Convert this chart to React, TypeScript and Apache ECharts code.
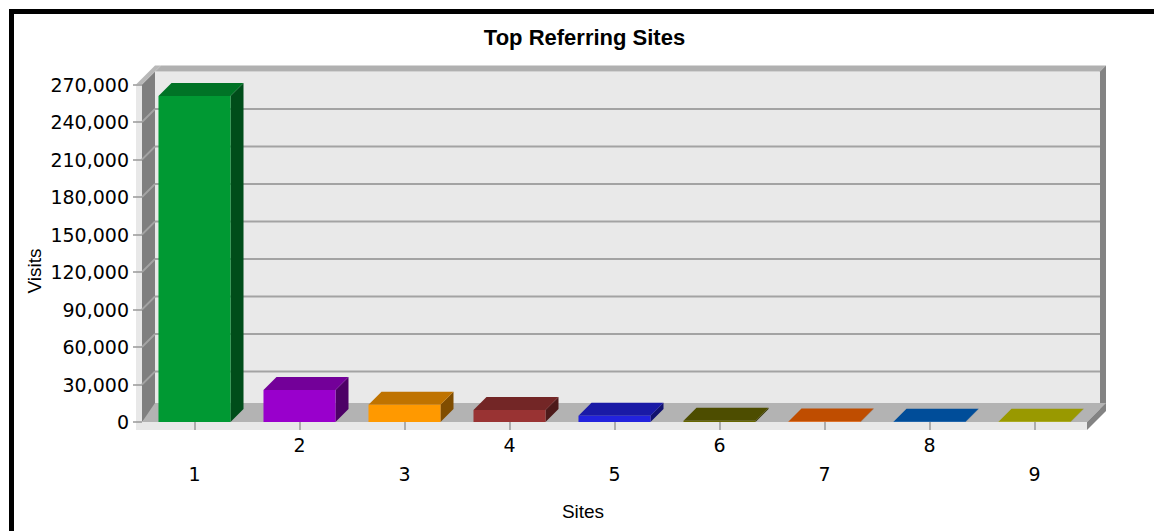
import React, { useEffect, useRef } from 'react';
import * as echarts from 'echarts';

const categories = ['1', '2', '3', '4', '5', '6', '7', '8', '9'];
const visits = [260800, 25600, 13800, 9600, 5000, 1000, 400, 300, 300];
const barColors = ['#009933', '#9900cc', '#ff9900', '#993333', '#2222dd', '#666600', '#ff6600', '#0066cc', '#cccc00'];
const yTicks = [30000, 60000, 90000, 120000, 150000, 180000, 210000, 240000];
const yMin = 0;
const yMax = 270000;
const yInterval = 30000;
const chartTitle = 'Top Referring Sites';
const xName = 'Sites';
const yName = 'Visits';

const DEPTH = 13;
const WALL = 6;
const FLOOR = 8;
const FONT = '"Liberation Sans", Arial, sans-serif';
const TICK_FONT = '"DejaVu Sans", "Liberation Sans", sans-serif';

function shade(hex: string, f: number): string {
  const n = parseInt(hex.slice(1), 16);
  const r = Math.round(((n >> 16) & 255) * f);
  const g = Math.round(((n >> 8) & 255) * f);
  const b = Math.round((n & 255) * f);
  return `rgb(${r},${g},${b})`;
}

function fmt(v: number): string {
  return String(v).replace(/\B(?=(\d{3})+(?!\d))/g, ',');
}

export default function App() {
  const ref = useRef<HTMLDivElement>(null);
  useEffect(() => {
    if (!ref.current) return;
    const chart = echarts.init(ref.current, null, { renderer: 'svg' });

    const frameItem = (params: any) => {
      const cs = params.coordSys;
      const x0 = cs.x, y0 = cs.y, x1 = cs.x + cs.width, yb = cs.y + cs.height;
      const D = DEPTH, T = WALL;
      return {
        type: 'group',
        children: [
          { type: 'rect', shape: { x: x0 + D, y: y0 - D, width: x1 - x0, height: yb - y0 }, style: { fill: '#e9e9e9' } },
          { type: 'polygon', shape: { points: [[x0 + D, y0 - D], [x1 + D, y0 - D], [x1 + D + T, y0 - D - T], [x0 + D + T, y0 - D - T]] }, style: { fill: '#b0b0b0' } },
          { type: 'polygon', shape: { points: [[x1 + D, y0 - D], [x1 + D + T, y0 - D - T], [x1 + D + T, yb - D - T], [x1 + D, yb - D]] }, style: { fill: '#838383' } },
          { type: 'polygon', shape: { points: [[x0, y0], [x0 + D, y0 - D], [x0 + D, yb - D], [x0, yb]] }, style: { fill: '#7f7f7f' } },
          { type: 'polygon', shape: { points: [[x0 - T, y0], [x0, y0], [x0 + D + T, y0 - D - T], [x0 + D, y0 - D - T]] }, style: { fill: '#b8b8b8' } },
          { type: 'rect', shape: { x: x0 - T, y: y0, width: T, height: yb - y0 }, style: { fill: '#e8e8e8' } },
          { type: 'polygon', shape: { points: [[x0, yb], [x1, yb], [x1 + D + T, yb - D - T], [x0 + D, yb - D - T]] }, style: { fill: '#b3b3b3' } },
          { type: 'rect', shape: { x: x0 - T, y: yb, width: x1 - x0 + T, height: FLOOR }, style: { fill: '#e8e8e8' } },
          { type: 'polygon', shape: { points: [[x1, yb], [x1 + D + T, yb - D - T], [x1 + D + T, yb - D - T + FLOOR], [x1, yb + FLOOR]] }, style: { fill: '#838383' } },
        ],
      };
    };

    const gridItem = (params: any, api: any) => {
      const cs = params.coordSys;
      const x0 = cs.x, x1 = cs.x + cs.width;
      const y = api.coord([0, api.value(1)])[1];
      const D = DEPTH;
      const ls = { stroke: '#a3a3a3', lineWidth: 1.8 };
      return {
        type: 'group',
        children: [
          { type: 'line', shape: { x1: x0, y1: y, x2: x0 + D, y2: y - D }, style: ls },
          { type: 'line', shape: { x1: x0 + D, y1: y - D, x2: x1 + D, y2: y - D }, style: ls },
        ],
      };
    };

    const barItem = (params: any, api: any) => {
      const i = api.value(0);
      const v = api.value(1);
      const top = api.coord([i, v]);
      const base = api.coord([i, 0]);
      const bw = api.size([1, 0])[0] * 0.686;
      const l = top[0] - bw / 2;
      const r = l + bw;
      const t = top[1];
      const b = base[1];
      const D = DEPTH;
      const c = barColors[params.dataIndex];
      return {
        type: 'group',
        children: [
          { type: 'polygon', shape: { points: [[r, t], [r + D, t - D], [r + D, b - D], [r, b]] }, style: { fill: shade(c, 0.5) } },
          { type: 'polygon', shape: { points: [[l, t], [r, t], [r + D, t - D], [l + D, t - D]] }, style: { fill: shade(c, 0.75) } },
          { type: 'rect', shape: { x: l, y: t, width: bw, height: b - t }, style: { fill: c } },
        ],
      };
    };

    chart.setOption({
      animation: false,
      grid: { left: 142, right: 67, top: 84.5, bottom: 109 },
      xAxis: {
        type: 'category',
        data: categories,
        z: 10,
        axisLine: { show: false },
        axisTick: { show: true, alignWithLabel: true, length: 8, lineStyle: { color: '#999999', width: 1.5 } },
        axisLabel: {
          color: '#000',
          fontSize: 19,
          fontFamily: TICK_FONT,
          lineHeight: 29,
          margin: 8.5,
          interval: 0,
          formatter: (v: string, idx: number) => (idx % 2 === 0 ? '\n' + v : v),
        },
        splitLine: { show: false },
      },
      yAxis: {
        type: 'value',
        min: yMin,
        max: yMax,
        interval: yInterval,
        z: 10,
        axisLine: { show: false },
        axisTick: { show: true, length: 9, lineStyle: { color: '#999999', width: 1.5 } },
        axisLabel: { color: '#000', fontSize: 19, fontFamily: TICK_FONT, margin: 13, formatter: (v: number) => fmt(v) },
        splitLine: { show: false },
      },
      graphic: [
        { type: 'rect', shape: { x: 11.5, y: 11.5, width: 1300, height: 700 }, style: { fill: 'none', stroke: '#000', lineWidth: 5 }, z: 100 },
        { type: 'text', x: 584.5, y: 37, style: { text: chartTitle, fontSize: 22, fontWeight: 'bold', fontFamily: FONT, fill: '#000', align: 'center', verticalAlign: 'middle' } },
        { type: 'text', x: 583, y: 511, style: { text: xName, fontSize: 19, fontFamily: FONT, fill: '#000', align: 'center', verticalAlign: 'middle' } },
        { type: 'text', x: 34, y: 271, rotation: Math.PI / 2, style: { text: yName, fontSize: 19, fontFamily: FONT, fill: '#000', align: 'center', verticalAlign: 'middle' } },
      ],
      series: [
        { type: 'custom', name: 'frame', z: 1, silent: true, encode: { x: 0, y: 1 }, data: [[0, 0]], renderItem: frameItem },
        { type: 'custom', name: 'grid', z: 2, silent: true, encode: { x: 0, y: 1 }, data: yTicks.map((v) => [0, v]), renderItem: gridItem },
        { type: 'custom', name: 'Visits', z: 3, encode: { x: 0, y: 1 }, data: visits.map((v, i) => [i, v]), renderItem: barItem },
      ],
    });
    return () => chart.dispose();
  }, []);
  return <div ref={ref} style={{ position: 'fixed', left: 0, top: 0, width: 1154, height: 531, background: '#fff' }} />;
}
